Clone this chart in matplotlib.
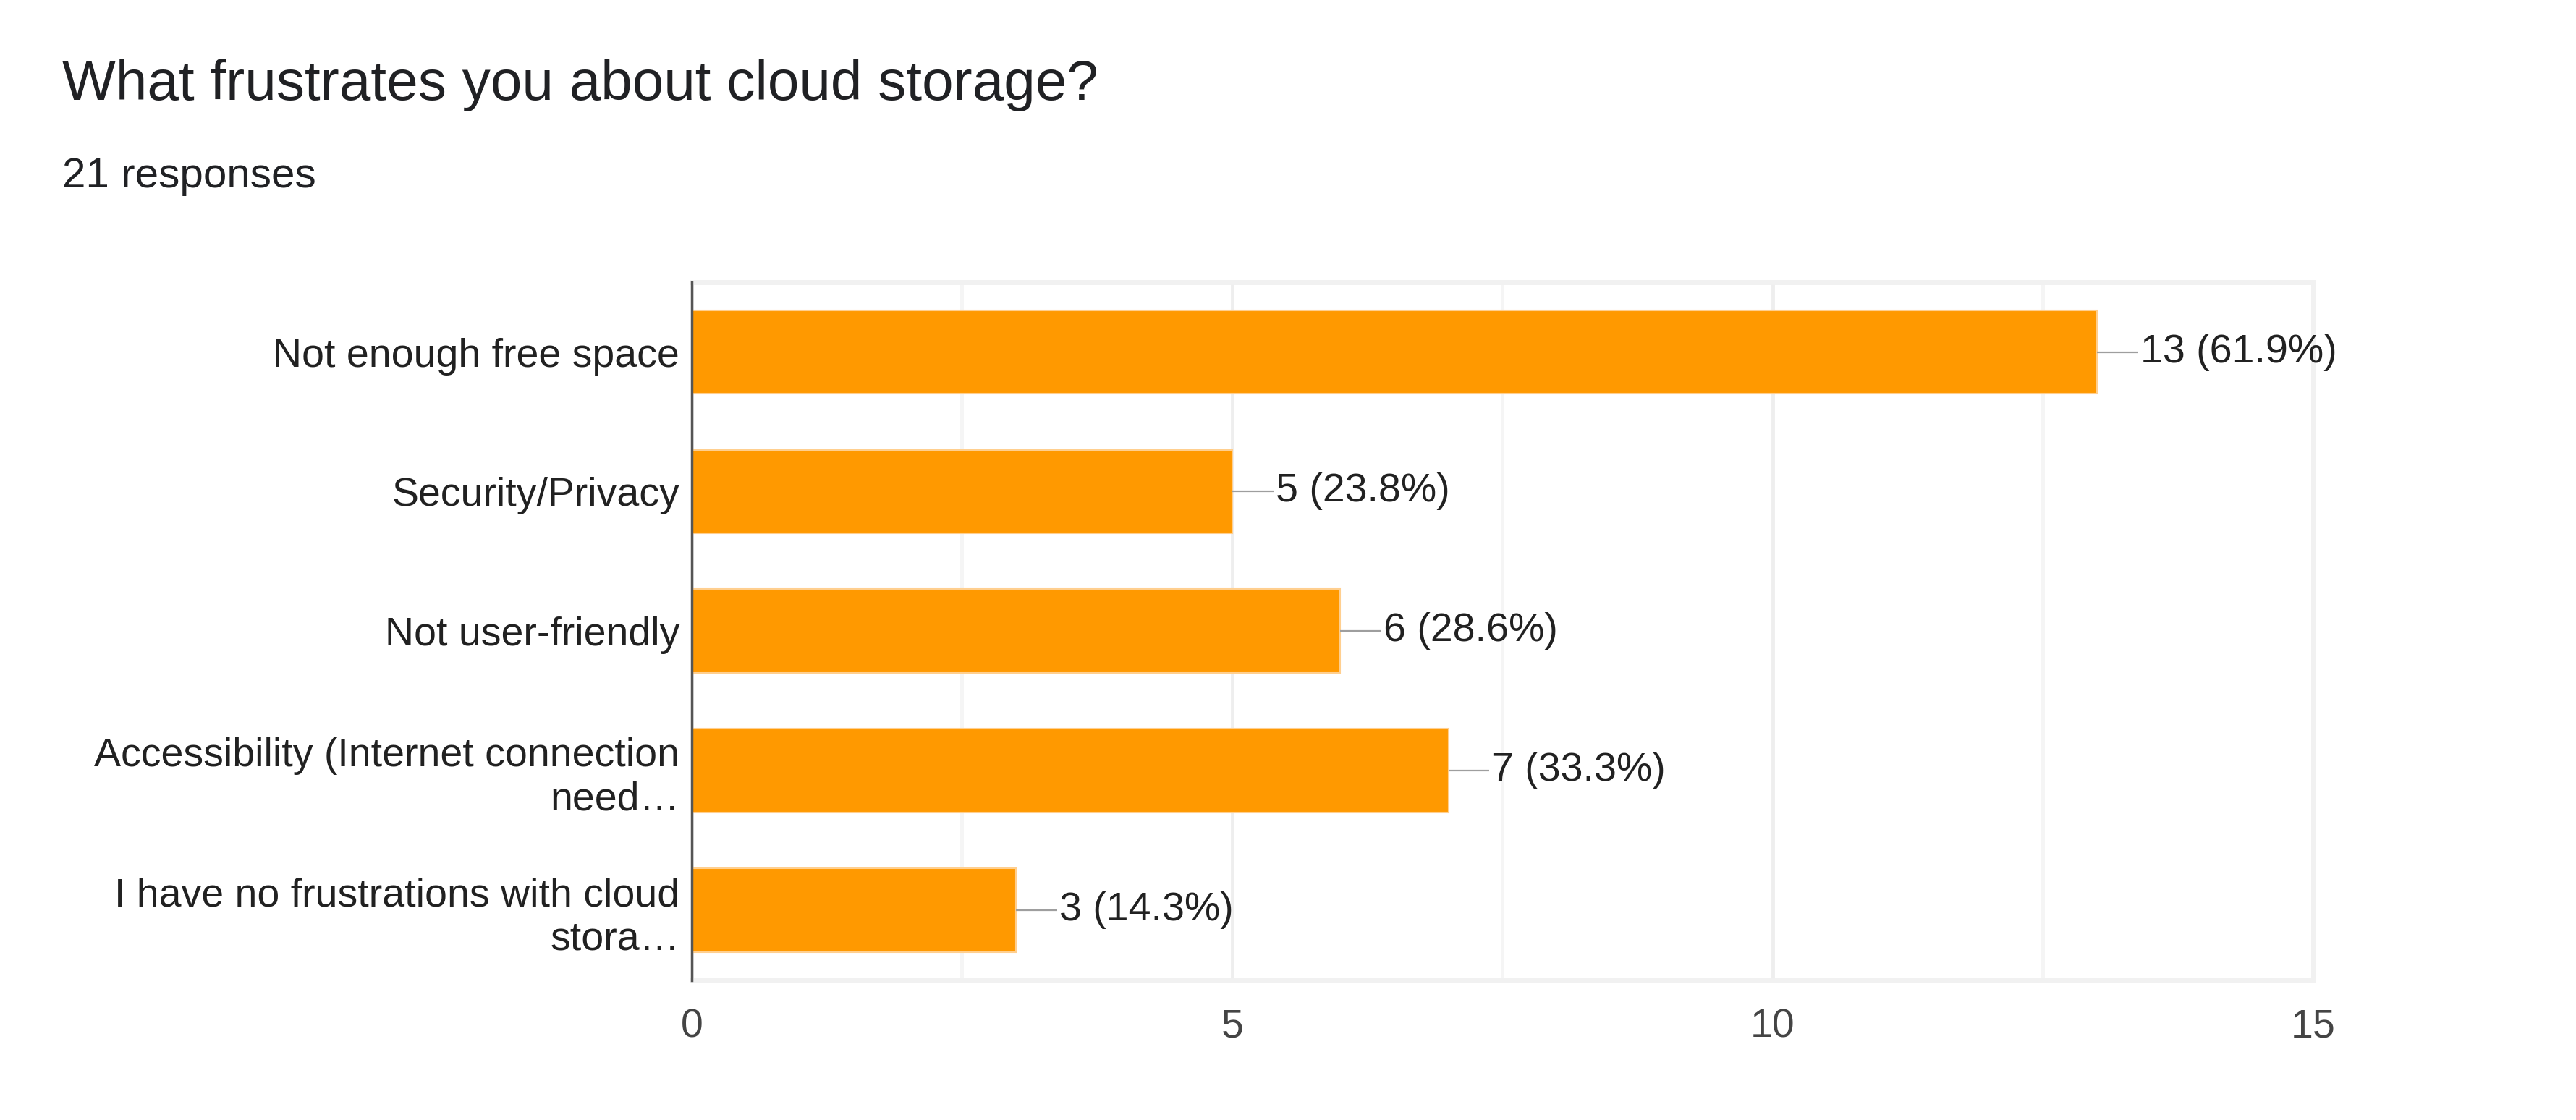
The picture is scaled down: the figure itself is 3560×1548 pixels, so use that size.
import numpy as np
import matplotlib
matplotlib.use("Agg")
from matplotlib import pyplot as plt

# data
categories = ["Not enough free space",
              "Security/Privacy",
              "Not user-friendly",
              "Accessibility (Internet connection\nneed\u2026",
              "I have no frustrations with cloud\nstora\u2026"]
counts = [13, 5, 6, 7, 3]
percents = [61.9, 23.8, 28.6, 33.3, 14.3]
xticks = [0, 5, 10, 15]

title = "What frustrates you about cloud storage?"
subtitle = "21 responses"

bar_color = "#ff9900"
text_color = "#212121"

plt.rcParams['font.family'] = ['Liberation Sans', 'DejaVu Sans']

fig = plt.figure(figsize=(35.6, 15.48), dpi=100)
ax = fig.add_axes([0.2685, 0.125, 0.6295, 0.623])

y = np.arange(len(categories))
ax.barh(y, counts, height=0.6, color=bar_color, edgecolor="#ffcf8f",
        linewidth=1.5, zorder=3)

# connector line + value label
for yi, c, p in zip(y, counts, percents):
    ax.plot([c, c + 0.38], [yi, yi], color="#9e9e9e", lw=1.6, zorder=4,
            solid_capstyle="butt")
    ax.text(c + 0.4, yi, "%d (%.1f%%)" % (c, p), va="center", ha="left",
            fontsize=40, color=text_color, zorder=5)

ax.set_xlim(0, 15)
ax.set_ylim(len(categories) - 0.5, -0.5)
ax.set_yticks(y)
ax.set_yticklabels(categories, fontsize=40, color=text_color)
ax.set_xticks(xticks)
ax.set_xticklabels([str(t) for t in xticks], fontsize=40, color="#444444")
ax.set_xticks([2.5, 7.5, 12.5], minor=True)
ax.tick_params(axis="both", length=0)
ax.tick_params(axis="y", pad=12)
ax.tick_params(axis="x", pad=28)

ax.grid(axis="x", which="major", color="#eeeeee", lw=3.5, zorder=0)
ax.grid(axis="x", which="minor", color="#f5f5f5", lw=3.5, zorder=0)

for s in ["top", "right", "bottom"]:
    ax.spines[s].set_color("#f1f1f1")
    ax.spines[s].set_linewidth(5)
ax.spines["left"].set_color("#555555")
ax.spines["left"].set_linewidth(2.5)
ax.spines["left"].set_zorder(6)

fig.text(0.0242, 0.911, title, fontsize=56.3, color="#202124",
         va="baseline", ha="left")
fig.text(0.0242, 0.833, subtitle, fontsize=42, color="#202124",
         va="baseline", ha="left")

fig.savefig("out.png", dpi=100)
